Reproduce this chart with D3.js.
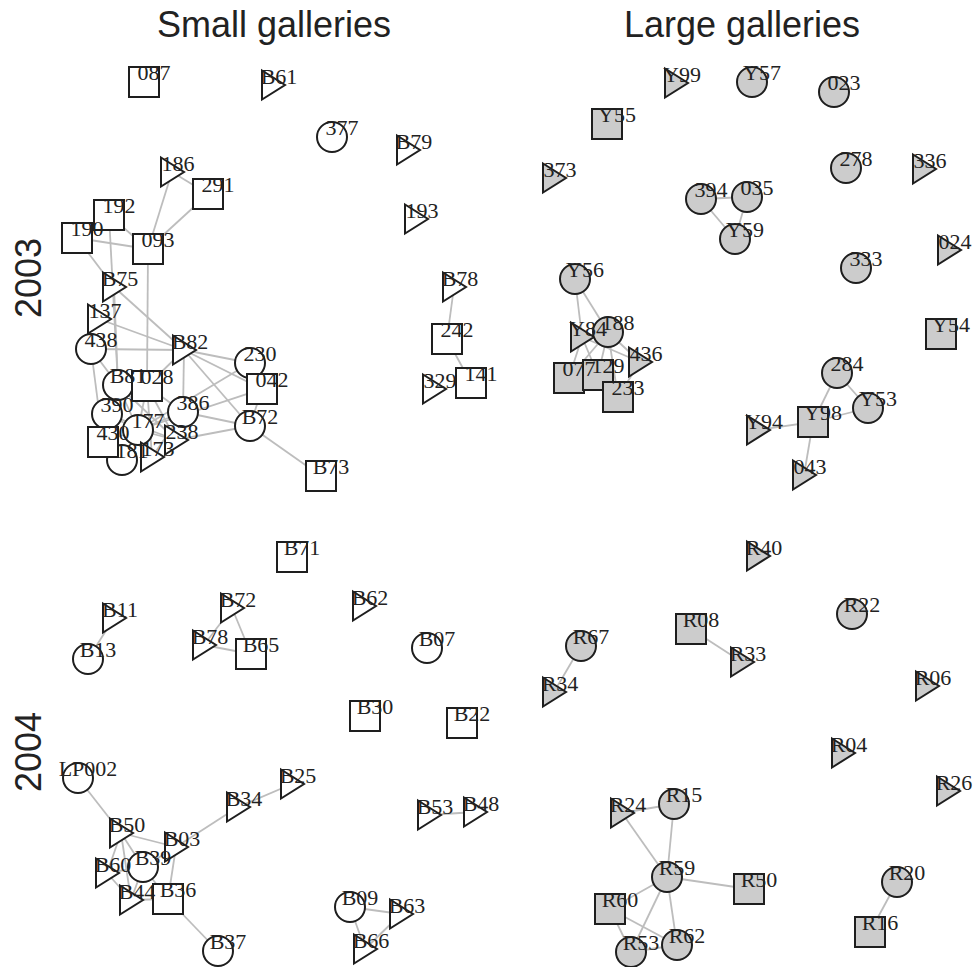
<!DOCTYPE html>
<html>
<head>
<meta charset="utf-8">
<script src="https://cdn.jsdelivr.net/npm/d3@7"></script>
<style>
  html, body { margin: 0; padding: 0; background: #ffffff; }
  svg { display: block; }
</style>
</head>
<body>
<svg id="chart" width="974" height="967"></svg>
<script>
// Column and row headings
const columnTitles = ["Small galleries", "Large galleries"];
const rowTitles = ["2003", "2004"];

// Layout coordinates of each gallery network (units of the layout box, 0..440)
const small2003Nodes = [
  { id: "087", shape: "square", x: 84, y: 27 },
  { id: "B61", shape: "triangle", x: 213, y: 30 },
  { id: "377", shape: "circle", x: 272, y: 82 },
  { id: "B79", shape: "triangle", x: 348, y: 95 },
  { id: "186", shape: "triangle", x: 112, y: 117 },
  { id: "291", shape: "square", x: 148, y: 139 },
  { id: "192", shape: "square", x: 49, y: 160 },
  { id: "190", shape: "square", x: 17, y: 183 },
  { id: "093", shape: "square", x: 88, y: 194 },
  { id: "193", shape: "triangle", x: 356, y: 164 },
  { id: "B75", shape: "triangle", x: 54, y: 232 },
  { id: "B78", shape: "triangle", x: 394, y: 232 },
  { id: "137", shape: "triangle", x: 39, y: 264 },
  { id: "438", shape: "circle", x: 31, y: 294 },
  { id: "B82", shape: "triangle", x: 124, y: 295 },
  { id: "242", shape: "square", x: 387, y: 284 },
  { id: "230", shape: "circle", x: 190, y: 308 },
  { id: "042", shape: "square", x: 202, y: 334 },
  { id: "B81", shape: "circle", x: 58, y: 330 },
  { id: "028", shape: "square", x: 87, y: 331 },
  { id: "141", shape: "square", x: 411, y: 328 },
  { id: "329", shape: "triangle", x: 374, y: 334 },
  { id: "390", shape: "circle", x: 47, y: 359 },
  { id: "386", shape: "circle", x: 123, y: 357 },
  { id: "B72", shape: "circle", x: 190, y: 371 },
  { id: "181", shape: "circle", x: 62, y: 405 },
  { id: "430", shape: "square", x: 43, y: 387 },
  { id: "177", shape: "circle", x: 78, y: 375 },
  { id: "238", shape: "triangle", x: 116, y: 385 },
  { id: "173", shape: "triangle", x: 92, y: 402 },
  { id: "B73", shape: "square", x: 261, y: 421 }
];
const small2003Links = [
  ["186", "291"], ["186", "093"], ["291", "093"], ["192", "093"], ["190", "093"],
  ["192", "B81"], ["190", "B75"], ["093", "028"], ["B75", "B82"], ["B75", "B81"],
  ["137", "B82"], ["438", "B82"], ["438", "B81"], ["438", "430"], ["B82", "028"],
  ["B82", "230"], ["B82", "042"], ["B82", "B72"], ["B82", "386"], ["230", "177"],
  ["042", "177"], ["042", "B72"], ["B72", "386"], ["B72", "238"], ["B72", "B73"],
  ["028", "177"], ["028", "173"], ["028", "238"], ["B81", "177"], ["B81", "238"],
  ["390", "177"], ["390", "238"], ["430", "177"], ["181", "177"], ["177", "173"],
  ["177", "238"], ["386", "177"], ["386", "173"], ["028", "386"], ["B78", "242"],
  ["242", "141"]
];

const large2003Nodes = [
  { id: "Y99", shape: "triangle", x: 146, y: 28 },
  { id: "Y57", shape: "circle", x: 222, y: 27 },
  { id: "023", shape: "circle", x: 304, y: 37 },
  { id: "Y55", shape: "square", x: 77, y: 69 },
  { id: "373", shape: "triangle", x: 24, y: 123 },
  { id: "278", shape: "circle", x: 316, y: 113 },
  { id: "336", shape: "triangle", x: 394, y: 114 },
  { id: "394", shape: "circle", x: 171, y: 144 },
  { id: "035", shape: "circle", x: 217, y: 142 },
  { id: "Y59", shape: "circle", x: 205, y: 184 },
  { id: "333", shape: "circle", x: 326, y: 213 },
  { id: "024", shape: "triangle", x: 419, y: 195 },
  { id: "Y56", shape: "circle", x: 45, y: 224 },
  { id: "Y84", shape: "triangle", x: 52, y: 282 },
  { id: "188", shape: "circle", x: 78, y: 277 },
  { id: "436", shape: "triangle", x: 110, y: 307 },
  { id: "077", shape: "square", x: 39, y: 323 },
  { id: "129", shape: "square", x: 68, y: 320 },
  { id: "233", shape: "square", x: 88, y: 342 },
  { id: "Y54", shape: "square", x: 411, y: 279 },
  { id: "284", shape: "circle", x: 307, y: 318 },
  { id: "Y53", shape: "circle", x: 338, y: 353 },
  { id: "Y98", shape: "square", x: 283, y: 367 },
  { id: "Y94", shape: "triangle", x: 228, y: 375 },
  { id: "043", shape: "triangle", x: 274, y: 420 }
];
const large2003Links = [
  ["394", "035"], ["394", "Y59"], ["035", "Y59"],
  ["Y56", "Y84"], ["Y56", "188"], ["Y84", "077"], ["Y84", "129"], ["Y84", "436"],
  ["188", "077"], ["188", "129"], ["188", "233"], ["188", "436"], ["077", "129"],
  ["129", "233"], ["233", "436"],
  ["284", "Y98"], ["284", "Y53"], ["Y98", "Y53"], ["Y94", "Y98"], ["Y98", "043"]
];

const small2004Nodes = [
  { id: "B71", shape: "square", x: 232, y: 37 },
  { id: "B72", shape: "triangle", x: 172, y: 88 },
  { id: "B62", shape: "triangle", x: 304, y: 86 },
  { id: "B11", shape: "triangle", x: 54, y: 98 },
  { id: "B78", shape: "triangle", x: 144, y: 125 },
  { id: "B65", shape: "square", x: 191, y: 134 },
  { id: "B07", shape: "circle", x: 367, y: 128 },
  { id: "B13", shape: "circle", x: 28, y: 139 },
  { id: "B30", shape: "square", x: 305, y: 196 },
  { id: "B22", shape: "square", x: 402, y: 203 },
  { id: "LP002", shape: "circle", x: 18, y: 258 },
  { id: "B25", shape: "triangle", x: 232, y: 264 },
  { id: "B34", shape: "triangle", x: 178, y: 287 },
  { id: "B53", shape: "triangle", x: 369, y: 295 },
  { id: "B48", shape: "triangle", x: 415, y: 292 },
  { id: "B50", shape: "triangle", x: 61, y: 313 },
  { id: "B03", shape: "triangle", x: 116, y: 327 },
  { id: "B39", shape: "circle", x: 83, y: 347 },
  { id: "B60", shape: "triangle", x: 47, y: 353 },
  { id: "B44", shape: "triangle", x: 71, y: 380 },
  { id: "B36", shape: "square", x: 108, y: 379 },
  { id: "B09", shape: "circle", x: 290, y: 387 },
  { id: "B63", shape: "triangle", x: 341, y: 394 },
  { id: "B37", shape: "circle", x: 158, y: 431 },
  { id: "B66", shape: "triangle", x: 305, y: 429 }
];
const small2004Links = [
  ["B11", "B13"], ["B72", "B78"], ["B72", "B65"], ["B78", "B65"],
  ["LP002", "B50"], ["B50", "B03"], ["B50", "B60"], ["B50", "B39"], ["B50", "B44"],
  ["B60", "B44"], ["B60", "B39"], ["B39", "B44"], ["B39", "B36"], ["B03", "B39"],
  ["B03", "B36"], ["B44", "B36"], ["B36", "B37"], ["B03", "B34"], ["B34", "B25"],
  ["B53", "B48"], ["B09", "B63"], ["B09", "B66"], ["B63", "B66"]
];

const large2004Nodes = [
  { id: "R40", shape: "triangle", x: 228, y: 36 },
  { id: "R22", shape: "circle", x: 322, y: 94 },
  { id: "R08", shape: "square", x: 161, y: 109 },
  { id: "R67", shape: "circle", x: 51, y: 126 },
  { id: "R33", shape: "triangle", x: 212, y: 142 },
  { id: "R06", shape: "triangle", x: 397, y: 166 },
  { id: "R34", shape: "triangle", x: 24, y: 172 },
  { id: "R04", shape: "triangle", x: 313, y: 233 },
  { id: "R26", shape: "triangle", x: 418, y: 271 },
  { id: "R15", shape: "circle", x: 144, y: 284 },
  { id: "R24", shape: "triangle", x: 92, y: 293 },
  { id: "R59", shape: "circle", x: 137, y: 357 },
  { id: "R20", shape: "circle", x: 367, y: 362 },
  { id: "R50", shape: "square", x: 219, y: 369 },
  { id: "R60", shape: "square", x: 80, y: 389 },
  { id: "R16", shape: "square", x: 340, y: 412 },
  { id: "R62", shape: "circle", x: 147, y: 425 },
  { id: "R53", shape: "circle", x: 101, y: 432 }
];
const large2004Links = [
  ["R08", "R33"], ["R67", "R34"],
  ["R24", "R15"], ["R24", "R59"], ["R15", "R59"], ["R59", "R50"], ["R59", "R60"],
  ["R59", "R53"], ["R59", "R62"], ["R60", "R53"], ["R60", "R62"], ["R53", "R62"],
  ["R20", "R16"]
];

const panels = [
  { col: 0, row: 0, nodes: small2003Nodes, links: small2003Links, fill: "#ffffff" },
  { col: 1, row: 0, nodes: large2003Nodes, links: large2003Links, fill: "#cccccc" },
  { col: 0, row: 1, nodes: small2004Nodes, links: small2004Links, fill: "#ffffff" },
  { col: 1, row: 1, nodes: large2004Nodes, links: large2004Links, fill: "#cccccc" }
];

// Page geometry
const layoutExtent = [0, 440];
const panelLeft = [60, 530];
const panelTop = [55, 520];
const ink = "#1e1e1e";
const linkColor = "#bdbdbd";

const svg = d3.select("#chart");
svg.append("rect").attr("width", 974).attr("height", 967).attr("fill", "#ffffff");

// Headings
svg.selectAll("text.col-title")
  .data(columnTitles)
  .join("text")
  .attr("class", "col-title")
  .attr("x", (d, i) => [274, 742][i])
  .attr("y", 37)
  .attr("text-anchor", "middle")
  .attr("font-family", "'Liberation Sans', Arial, sans-serif")
  .attr("font-size", 36)
  .attr("fill", "#222")
  .text(d => d);

svg.selectAll("text.row-title")
  .data(rowTitles)
  .join("text")
  .attr("class", "row-title")
  .attr("transform", (d, i) => `translate(41,${[278, 752][i]}) rotate(-90)`)
  .attr("text-anchor", "middle")
  .attr("font-family", "'Liberation Sans', Arial, sans-serif")
  .attr("font-size", 36)
  .attr("fill", "#222")
  .text(d => d);

// Vertex glyphs
function shapePath(shape) {
  if (shape === "circle") {
    const p = d3.path();
    p.arc(0, 0, 15, 0, 2 * Math.PI);
    p.closePath();
    return p.toString();
  }
  if (shape === "square") return "M-15,-15H15V15H-15Z";
  return "M-11,-14.5L12,0L-11,14.5Z";
}
const labelOffset = {
  circle: [10, -2],
  square: [10, -2],
  triangle: [6, -1]
};

panels.forEach(panel => {
  const x = d3.scaleLinear().domain(layoutExtent).range([panelLeft[panel.col], panelLeft[panel.col] + 440]);
  const y = d3.scaleLinear().domain(layoutExtent).range([panelTop[panel.row], panelTop[panel.row] + 440]);
  const byId = new Map(panel.nodes.map(n => [n.id, n]));

  const g = svg.append("g");

  g.append("g").selectAll("line")
    .data(panel.links)
    .join("line")
    .attr("x1", d => x(byId.get(d[0]).x))
    .attr("y1", d => y(byId.get(d[0]).y))
    .attr("x2", d => x(byId.get(d[1]).x))
    .attr("y2", d => y(byId.get(d[1]).y))
    .attr("stroke", linkColor)
    .attr("stroke-width", 1.8);

  g.append("g").selectAll("path")
    .data(panel.nodes)
    .join("path")
    .attr("transform", d => `translate(${x(d.x)},${y(d.y)})`)
    .attr("d", d => shapePath(d.shape))
    .attr("fill", panel.fill)
    .attr("stroke", ink)
    .attr("stroke-width", 2)
    .attr("stroke-linejoin", "miter");

  g.append("g").selectAll("text")
    .data(panel.nodes)
    .join("text")
    .attr("x", d => x(d.x) + labelOffset[d.shape][0])
    .attr("y", d => y(d.y) + labelOffset[d.shape][1])
    .attr("text-anchor", "middle")
    .attr("font-family", "'Liberation Serif', 'Times New Roman', serif")
    .attr("font-size", 22)
    .attr("fill", "#222")
    .text(d => d.id);
});
</script>
</body>
</html>
